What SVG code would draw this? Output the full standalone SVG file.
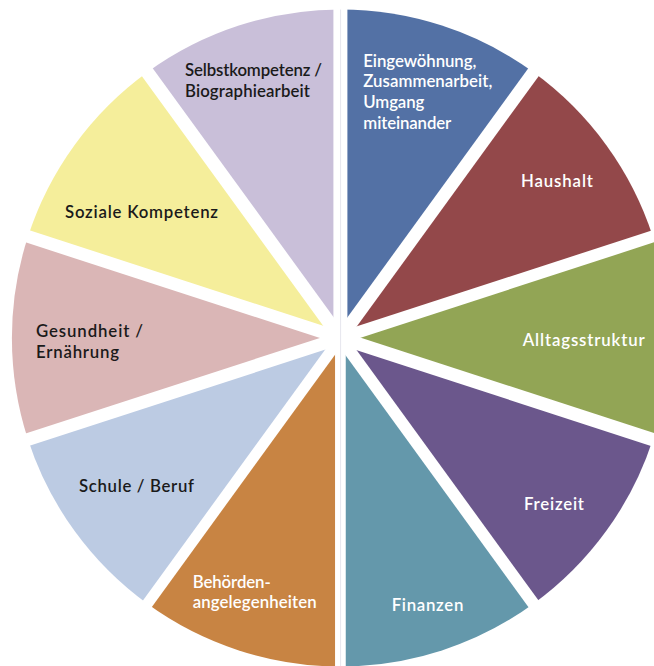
<svg xmlns="http://www.w3.org/2000/svg" width="654" height="666" viewBox="0 0 654 666">
<style>
.lbl{font-family:Lato,"Open Sans","Liberation Sans",sans-serif;font-size:16.8px;font-weight:600}
.w{fill:#ffffff}
.k{fill:#1a1a1a}
.gap{stroke:#ffffff;stroke-linecap:butt;fill:none}
</style>
<rect x="0" y="0" width="654" height="666" fill="#ffffff"/>
<g id="slice-eingewoehnung">
<path d="M340.4,338 L340.4,9.5 A328.5,328.5 0 0 1 533.49,72.24 Z" fill="#5371a5"/>
</g>
<g id="slice-haushalt">
<path d="M340.4,338 L533.49,72.24 A328.5,328.5 0 0 1 652.82,236.49 Z" fill="#93484a"/>
</g>
<g id="slice-alltagsstruktur">
<path d="M340.4,338 L652.82,236.49 A328.5,328.5 0 0 1 652.82,439.51 Z" fill="#92a555"/>
</g>
<g id="slice-freizeit">
<path d="M340.4,338 L652.82,439.51 A328.5,328.5 0 0 1 533.49,603.76 Z" fill="#6b578c"/>
</g>
<g id="slice-finanzen">
<path d="M340.4,338 L533.49,603.76 A328.5,328.5 0 0 1 340.4,666.5 Z" fill="#6498ab"/>
</g>
<g id="slice-behoerden">
<path d="M340.4,338 L340.4,666.5 A328.5,328.5 0 0 1 147.31,603.76 Z" fill="#c88443"/>
</g>
<g id="slice-schule">
<path d="M340.4,338 L147.31,603.76 A328.5,328.5 0 0 1 27.98,439.51 Z" fill="#bccbe3"/>
</g>
<g id="slice-gesundheit">
<path d="M340.4,338 L27.98,439.51 A328.5,328.5 0 0 1 27.98,236.49 Z" fill="#dab6b6"/>
</g>
<g id="slice-sozial">
<path d="M340.4,338 L27.98,236.49 A328.5,328.5 0 0 1 147.31,72.24 Z" fill="#f5ee9b"/>
</g>
<g id="slice-selbst">
<path d="M340.4,338 L147.31,72.24 A328.5,328.5 0 0 1 340.4,9.5 Z" fill="#c9bfd9"/>
</g>
<g id="connectors">
<line class="gap" x1="340.4" y1="338" x2="340.4" y2="-5" stroke-width="14"/>
<line class="gap" x1="340.4" y1="338" x2="542.3" y2="60.1" stroke-width="13"/>
<line class="gap" x1="340.4" y1="338" x2="667.1" y2="231.8" stroke-width="12"/>
<line class="gap" x1="340.4" y1="338" x2="667.1" y2="444.2" stroke-width="13.3"/>
<line class="gap" x1="340.4" y1="338" x2="542.3" y2="615.9" stroke-width="12"/>
<line class="gap" x1="340.4" y1="338" x2="340.4" y2="681" stroke-width="10.7"/>
<line class="gap" x1="340.4" y1="338" x2="138.5" y2="615.9" stroke-width="11"/>
<line class="gap" x1="340.4" y1="338" x2="13.7" y2="444.2" stroke-width="12.8"/>
<line class="gap" x1="340.4" y1="338" x2="13.7" y2="231.8" stroke-width="12.7"/>
<line class="gap" x1="340.4" y1="338" x2="138.5" y2="60.1" stroke-width="13.5"/>
<line x1="340.6" y1="9.5" x2="340.6" y2="666" stroke="#e6e6ee" stroke-width="1"/>
</g>
<g id="labels">
<text class="lbl w" x="363.3" y="66.7" textLength="113">Eingewöhnung,</text>
<text class="lbl w" x="363.3" y="87.3" textLength="129">Zusammenarbeit,</text>
<text class="lbl w" x="363.3" y="108" textLength="61">Umgang</text>
<text class="lbl w" x="363.3" y="128.5" textLength="88">miteinander</text>
<text class="lbl w" x="521" y="186.7" textLength="72">Haushalt</text>
<text class="lbl w" x="522.7" y="345.7" textLength="122">Alltagsstruktur</text>
<text class="lbl w" x="524" y="510" textLength="60">Freizeit</text>
<text class="lbl w" x="391.7" y="611" textLength="71.6">Finanzen</text>
<text class="lbl w" x="192.7" y="588.3" textLength="78">Behörden-</text>
<text class="lbl w" x="192.7" y="608.3" textLength="124">angelegenheiten</text>
<text class="lbl k" x="79" y="491.7" textLength="115">Schule / Beruf</text>
<text class="lbl k" x="36" y="337" textLength="107">Gesundheit /</text>
<text class="lbl k" x="36" y="357.5" textLength="83">Ernährung</text>
<text class="lbl k" x="65" y="218.3" textLength="153">Soziale Kompetenz</text>
<text class="lbl k" x="185" y="76" textLength="137">Selbstkompetenz /</text>
<text class="lbl k" x="185" y="96.5" textLength="125">Biographiearbeit</text>
</g>
</svg>
